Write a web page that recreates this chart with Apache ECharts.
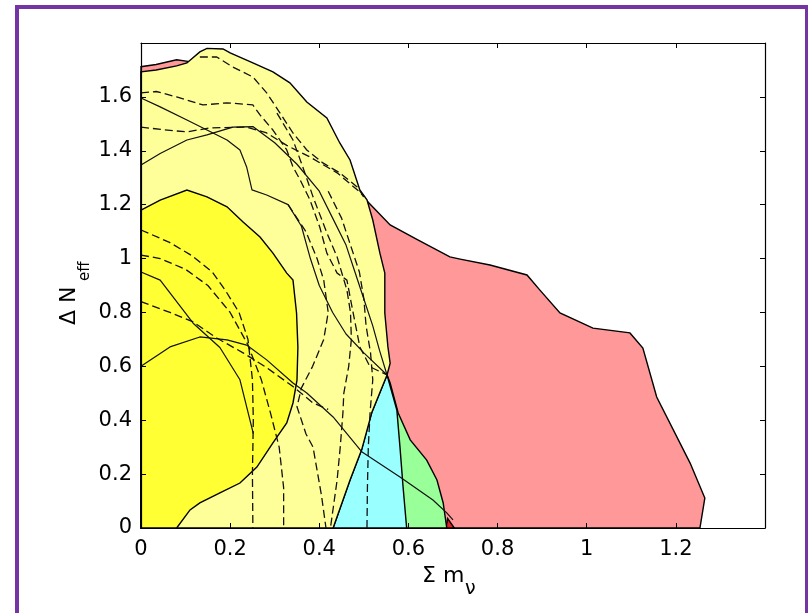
<!DOCTYPE html>
<html><head><meta charset="utf-8">
<script src="https://cdn.jsdelivr.net/npm/echarts@6/dist/echarts.min.js"></script>
<style>html,body{margin:0;padding:0;background:#fff}#c{width:808px;height:613px}</style>
</head><body><div id="c"></div>
<script>
// ---- tick labels ----
const xTickLabels = ['0', '0.2', '0.4', '0.6', '0.8', '1', '1.2'];
const yTickLabels = ['0', '0.2', '0.4', '0.6', '0.8', '1', '1.2', '1.4', '1.6'];

// ---- filled confidence regions [sum m_nu, delta N_eff] ----
const pinkRegion = [[0,0],[0,1.712],[0.034,1.72],[0.08,1.738],[0.105,1.732],[0.2,1.7],[0.3,1.6],[0.45,1.35],[0.498,1.229],[0.559,1.125],[0.62,1.07],[0.693,1.006],[0.716,0.998],[0.783,0.976],[0.866,0.939],[0.895,0.883],[0.94,0.798],[1.014,0.742],[1.097,0.724],[1.126,0.668],[1.157,0.486],[1.232,0.241],[1.265,0.111],[1.254,0]];
const darkRedRegion = [[0.684,0],[0.688,0.035],[0.703,0]];
const greenRegion = [[0.552,0.568],[0.559,0.538],[0.577,0.427],[0.604,0.327],[0.641,0.252],[0.664,0.178],[0.678,0.093],[0.686,0],[0.431,0]];
const cyanRegion = [[0.552,0.568],[0.574,0.438],[0.581,0.301],[0.588,0.152],[0.596,0],[0.431,0],[0.469,0.178],[0.495,0.29],[0.518,0.43]];
const paleYellowRegion = [[0,0],[0,1.693],[0.034,1.70],[0.08,1.715],[0.103,1.726],[0.132,1.767],[0.148,1.78],[0.184,1.778],[0.2,1.763],[0.251,1.726],[0.296,1.693],[0.334,1.652],[0.372,1.581],[0.417,1.522],[0.446,1.429],[0.469,1.366],[0.491,1.255],[0.507,1.218],[0.52,1.143],[0.536,1.02],[0.547,0.946],[0.547,0.798],[0.554,0.672],[0.559,0.612],[0.552,0.568],[0.518,0.43],[0.495,0.29],[0.469,0.178],[0.431,0]];
const yellowRegion = [[0,0],[0,1.18],[0.043,1.217],[0.103,1.254],[0.148,1.229],[0.193,1.192],[0.229,1.136],[0.267,1.08],[0.296,1.02],[0.327,0.946],[0.341,0.92],[0.349,0.798],[0.352,0.672],[0.35,0.549],[0.341,0.464],[0.327,0.39],[0.296,0.316],[0.26,0.226],[0.222,0.167],[0.177,0.13],[0.132,0.093],[0.11,0.067],[0.08,0]];

// ---- dashed contour lines ----
const dashL1 = [[0,1.615],[0.034,1.62],[0.08,1.60],[0.139,1.57],[0.193,1.578],[0.251,1.57],[0.267,1.533],[0.296,1.477],[0.327,1.403],[0.341,1.34],[0.357,1.292],[0.379,1.218],[0.401,1.117],[0.417,1.02],[0.44,0.946],[0.462,0.92],[0.476,0.798],[0.491,0.672],[0.514,0.598],[0.552,0.568]];
const dashL2 = [[0,1.488],[0.05,1.478],[0.103,1.47],[0.155,1.485],[0.237,1.488],[0.282,1.466],[0.327,1.42],[0.379,1.377],[0.44,1.318],[0.491,1.247],[0.5,1.229]];
const dashL3 = [[0.132,1.748],[0.17,1.748],[0.206,1.711],[0.251,1.674],[0.282,1.615],[0.312,1.54],[0.341,1.466],[0.372,1.403],[0.408,1.355],[0.446,1.318],[0.485,1.266],[0.5,1.229]];
const dashL4 = [[0,1.106],[0.064,1.06],[0.115,1.01],[0.16,0.95],[0.19,0.88],[0.22,0.8],[0.24,0.7],[0.25,0.55],[0.252,0.4],[0.25,0.2],[0.251,0]];
const dashL5 = [[0,1.013],[0.043,1.0],[0.1,0.96],[0.15,0.9],[0.2,0.8],[0.24,0.68],[0.27,0.55],[0.29,0.43],[0.31,0.3],[0.32,0.15],[0.32,0]];
const dashL6 = [[0,0.84],[0.065,0.8],[0.117,0.765],[0.17,0.705],[0.229,0.65],[0.283,0.594],[0.341,0.525],[0.386,0.464],[0.42,0.44]];
const dashL7 = [[0.305,1.54],[0.341,1.44],[0.363,1.34],[0.386,1.229],[0.417,1.095],[0.44,1.006],[0.462,0.883],[0.47,0.8],[0.472,0.7],[0.466,0.6],[0.455,0.5],[0.453,0.427],[0.447,0.3],[0.44,0.178],[0.425,0]];
const dashL8 = [[0.33,1.2],[0.37,1.1],[0.395,1.0],[0.41,0.92],[0.42,0.8],[0.41,0.7],[0.385,0.6],[0.36,0.52],[0.35,0.45],[0.37,0.35],[0.386,0.3],[0.405,0.12],[0.415,0]];
const dashL9 = [[0.42,1.25],[0.45,1.15],[0.47,1.05],[0.49,0.95],[0.5,0.85],[0.505,0.75],[0.515,0.65],[0.52,0.55],[0.514,0.43],[0.51,0.3],[0.508,0.15],[0.507,0]];

// ---- solid contour lines ----
const solidS1 = [[0,1.347],[0.043,1.39],[0.103,1.44],[0.148,1.459],[0.206,1.488],[0.251,1.49],[0.3,1.43],[0.35,1.35],[0.4,1.25],[0.43,1.15],[0.46,1.05],[0.48,0.95],[0.5,0.85],[0.52,0.75],[0.535,0.66],[0.552,0.568]];
const solidS2 = [[0,1.596],[0.043,1.563],[0.103,1.514],[0.148,1.477],[0.193,1.44],[0.222,1.403],[0.237,1.34],[0.249,1.255],[0.282,1.236],[0.33,1.2],[0.36,1.12],[0.38,1.0],[0.4,0.9],[0.43,0.8],[0.46,0.72],[0.5,0.65],[0.552,0.568]];
const solidS3 = [[0,0.95],[0.043,0.92],[0.117,0.76],[0.177,0.67],[0.222,0.55],[0.252,0.35]];
const solidS4 = [[0,0.6],[0.065,0.672],[0.132,0.709],[0.193,0.698],[0.237,0.679],[0.282,0.624],[0.341,0.538],[0.372,0.501],[0.431,0.412],[0.496,0.282],[0.581,0.189],[0.655,0.104],[0.686,0.056],[0.7,0.03]];

const FONT = 'DejaVu Sans';

function polySeries(pts, color, z) {
  return {
    type: 'custom', coordinateSystem: 'cartesian2d', z: z, silent: true, animation: false,
    data: [[0, 0]],
    renderItem: function (params, api) {
      return {
        type: 'polygon',
        shape: { points: pts.map(function (p) { return api.coord(p); }) },
        style: { fill: color, stroke: '#000', lineWidth: 1.4 }
      };
    }
  };
}
function lineSeries(pts, dashed) {
  return {
    type: 'line', data: pts, symbol: 'none', showSymbol: false, silent: true, animation: false, z: 8,
    lineStyle: { color: '#111', width: dashed ? 1.3 : 1.2, type: dashed ? [8, 4] : 'solid' }
  };
}
function fmt(labels) {
  return function (v) {
    const i = Math.round(v / 0.2);
    if (Math.abs(v - i * 0.2) > 1e-6 || i >= labels.length) return '';
    return labels[i];
  };
}
const axisCommon = {
  type: 'value', z: 20,
  axisLine: { show: true, onZero: false, lineStyle: { color: '#000', width: 1.2 } },
  axisTick: { show: true, inside: true, length: 5, lineStyle: { color: '#000', width: 1 } },
  splitLine: { show: false }
};

const chart = echarts.init(document.getElementById('c'), null, { renderer: 'canvas' });
chart.setOption({
  animation: false,
  backgroundColor: '#fff',
  grid: { left: 141, right: 43, top: 43, bottom: 85, containLabel: false },
  xAxis: [
    Object.assign({}, axisCommon, { min: 0, max: 1.4, interval: 0.2, position: 'bottom',
      axisLabel: { formatter: fmt(xTickLabels), fontSize: 21, fontFamily: FONT, color: '#000', margin: 11 } }),
    Object.assign({}, axisCommon, { min: 0, max: 1.4, interval: 0.2, position: 'top', axisLabel: { show: false } })
  ],
  yAxis: [
    Object.assign({}, axisCommon, { min: 0, max: 1.8, interval: 0.2, position: 'left',
      axisLabel: { formatter: fmt(yTickLabels), fontSize: 21, fontFamily: FONT, color: '#000', margin: 9 } }),
    Object.assign({}, axisCommon, { min: 0, max: 1.8, interval: 0.2, position: 'right', axisLabel: { show: false } })
  ],
  series: [
    polySeries(pinkRegion, '#ff9999', 1),
    polySeries(darkRedRegion, '#e82020', 2),
    polySeries(greenRegion, '#99ff99', 3),
    polySeries(cyanRegion, '#99ffff', 4),
    polySeries(paleYellowRegion, '#ffff99', 5),
    polySeries(yellowRegion, '#ffff33', 6),
    lineSeries(dashL1, true), lineSeries(dashL2, true), lineSeries(dashL3, true),
    lineSeries(dashL4, true), lineSeries(dashL5, true), lineSeries(dashL6, true),
    lineSeries(dashL7, true), lineSeries(dashL8, true), lineSeries(dashL9, true),
    lineSeries(solidS1, false), lineSeries(solidS2, false), lineSeries(solidS3, false), lineSeries(solidS4, false)
  ],
  graphic: [
    { type: 'rect', z: 100, silent: true, shape: { x: 17, y: 7, width: 790, height: 700 },
      style: { fill: 'none', stroke: '#7434a4', lineWidth: 4 } },
    { type: 'text', z: 100, x: 422, y: 576, silent: true,
      style: { text: 'Σ m', font: '22px "DejaVu Sans"', fill: '#000', align: 'left', verticalAlign: 'middle' } },
    { type: 'text', z: 100, x: 465, y: 589, silent: true,
      style: { text: 'ν', font: '19px "DejaVu Sans"', fill: '#000', align: 'left', verticalAlign: 'middle' } },
    { type: 'text', z: 100, x: 69, y: 325, rotation: Math.PI / 2, silent: true,
      style: { text: 'Δ N', font: '22px "DejaVu Sans"', fill: '#000', align: 'left', verticalAlign: 'middle' } },
    { type: 'text', z: 100, x: 85, y: 281, rotation: Math.PI / 2, silent: true,
      style: { text: 'eff', font: '15px "DejaVu Sans"', fill: '#000', align: 'left', verticalAlign: 'middle' } }
  ]
});
</script></body></html>
